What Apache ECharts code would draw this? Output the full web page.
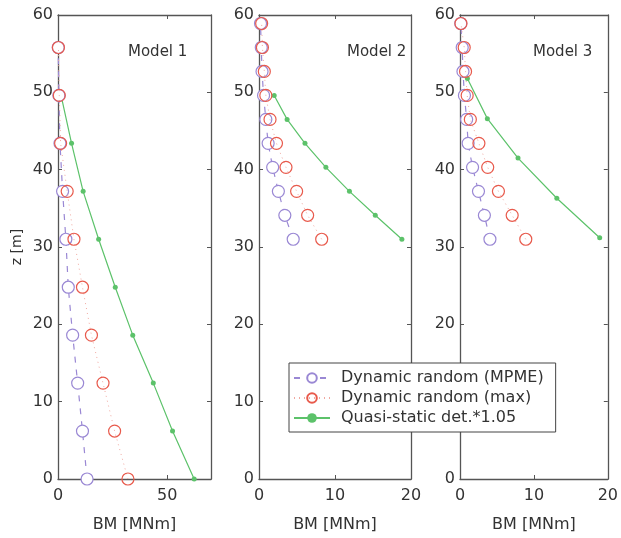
<!DOCTYPE html>
<html><head><meta charset="utf-8">
<script src="https://cdn.jsdelivr.net/npm/echarts/dist/echarts.min.js"></script>
<style>html,body{margin:0;padding:0;background:#fff}#c{width:621px;height:538px}</style>
</head><body><div id="c"></div><script>
// ---- data (BM [MNm] vs z [m]) ----
const seriesNames = ['Dynamic random (MPME)', 'Dynamic random (max)', 'Quasi-static det.*1.05'];
const modelTitles = ['Model 1', 'Model 2', 'Model 3'];
const xMax = [70, 20, 20];
const xInterval = [50, 10, 10];
const yTicks = [0, 10, 20, 30, 40, 50, 60];

// Model 1
const z1 = [0, 6.2, 12.4, 18.6, 24.8, 31, 37.2, 43.4, 49.6, 55.8];
const mpme1 = [13.3, 11.2, 9.0, 6.7, 4.7, 3.6, 2.1, 0.9, 0.4, 0.1];
const max1 = [32.0, 25.9, 20.6, 15.3, 11.2, 7.3, 4.2, 1.2, 0.6, 0.2];
const zQs1 = [0, 6.2, 12.4, 18.6, 24.8, 31, 37.2, 43.4, 49.6];
const qs1 = [62.3, 52.4, 43.6, 34.2, 26.2, 18.6, 11.5, 6.2, 1.4];

// Model 2
const z2 = [31, 34.1, 37.2, 40.3, 43.4, 46.5, 49.6, 52.7, 55.8, 58.9];
const mpme2 = [4.5, 3.4, 2.55, 1.8, 1.2, 0.9, 0.6, 0.4, 0.3, 0.2];
const max2 = [8.25, 6.4, 4.95, 3.55, 2.3, 1.45, 0.9, 0.7, 0.45, 0.35];
const zQs2 = [31, 34.1, 37.2, 40.3, 43.4, 46.5, 49.6];
const qs2 = [18.8, 15.3, 11.9, 8.8, 6.05, 3.7, 2.0];

// Model 3
const z3 = [31, 34.1, 37.2, 40.3, 43.4, 46.5, 49.6, 52.7, 55.8, 58.9];
const mpme3 = [4.05, 3.3, 2.5, 1.7, 1.1, 0.9, 0.6, 0.4, 0.3, 0.1];
const max3 = [8.9, 7.06, 5.2, 3.75, 2.56, 1.4, 0.97, 0.75, 0.57, 0.13];
const zQs3 = [31.2, 36.3, 41.5, 46.6, 51.8];
const qs3 = [18.9, 13.1, 7.85, 3.7, 1.0];

// ---- build ----
const FONT = 'DejaVu Sans';
const TXT = '#333';
const AX = '#555';
const colors = ['#9a88d4', '#e85a4c', '#5cc26a'];
const pair = (xs, zs) => xs.map((v, i) => [v, zs[i]]);
const panels = [
  {mpme: pair(mpme1, z1), max: pair(max1, z1), qs: pair(qs1, zQs1)},
  {mpme: pair(mpme2, z2), max: pair(max2, z2), qs: pair(qs2, zQs2)},
  {mpme: pair(mpme3, z3), max: pair(max3, z3), qs: pair(qs3, zQs3)}
];
const grids = [
  {left: 58, top: 15, width: 153, height: 464},
  {left: 259, top: 15, width: 152, height: 464},
  {left: 460, top: 15, width: 151, height: 464}
];
const titlePos = [[128, 45], [347, 45], [533, 45]];

const xAxis = [], yAxis = [], series = [], title = [];
panels.forEach((p, i) => {
  const base = {type: 'value', gridIndex: i, min: 0, max: xMax[i], interval: xInterval[i],
    splitLine: {show: false}, axisLine: {show: true, onZero: false, lineStyle: {color: AX, width: 1.3}},
    axisTick: {show: true, inside: true, length: 4, lineStyle: {color: AX}}};
  xAxis.push(Object.assign({}, base, {position: 'bottom',
    name: 'BM [MNm]', nameLocation: 'middle', nameGap: 38,
    nameTextStyle: {fontFamily: FONT, fontSize: 16, color: TXT},
    axisLabel: {fontFamily: FONT, fontSize: 16, color: TXT, margin: 9, showMaxLabel: i !== 0}}));
  xAxis.push(Object.assign({}, base, {position: 'top', axisLabel: {show: false}}));
  const ybase = {type: 'value', gridIndex: i, min: 0, max: 60, interval: 10,
    splitLine: {show: false}, axisLine: {show: true, onZero: false, lineStyle: {color: AX, width: 1.3}},
    axisTick: {show: true, inside: true, length: 4, lineStyle: {color: AX}}};
  yAxis.push(Object.assign({}, ybase, {position: 'left',
    name: i === 0 ? 'z [m]' : '', nameLocation: 'middle', nameGap: 34, nameRotate: 90,
    nameTextStyle: {fontFamily: FONT, fontSize: 14, color: TXT},
    axisLabel: {fontFamily: FONT, fontSize: 16, color: TXT, margin: 5}}));
  yAxis.push(Object.assign({}, ybase, {position: 'right', axisLabel: {show: false}}));

  series.push({name: seriesNames[0], type: 'line', xAxisIndex: 2 * i, yAxisIndex: 2 * i,
    data: p.mpme, symbol: 'circle', symbolSize: 12, showAllSymbol: true,
    itemStyle: {color: '#fff', borderColor: colors[0], borderWidth: 1.2},
    lineStyle: {color: colors[0], width: 1.2, type: [6, 7]}, z: 3});
  series.push({name: seriesNames[1], type: 'line', xAxisIndex: 2 * i, yAxisIndex: 2 * i,
    data: p.max, symbol: 'circle', symbolSize: 12, showAllSymbol: true,
    itemStyle: {color: 'rgba(255,255,255,0)', borderColor: colors[1], borderWidth: 1.2},
    lineStyle: {color: '#f0a8a0', width: 1, type: [1, 4]}, z: 4});
  series.push({name: seriesNames[2], type: 'line', xAxisIndex: 2 * i, yAxisIndex: 2 * i,
    data: p.qs, symbol: 'circle', symbolSize: 5, showAllSymbol: true,
    itemStyle: {color: colors[2], borderWidth: 0},
    lineStyle: {color: colors[2], width: 1.2}, z: 2});

  title.push({text: modelTitles[i], left: titlePos[i][0], top: titlePos[i][1], padding: 0,
    textStyle: {fontFamily: FONT, fontSize: 15, fontWeight: 'normal', color: TXT}});
});

const chart = echarts.init(document.getElementById('c'), null, {renderer: 'canvas'});
chart.setOption({
  animation: false,
  backgroundColor: '#fff',
  title: title,
  grid: grids,
  xAxis: xAxis,
  yAxis: yAxis,
  series: series,
  legend: {
    data: seriesNames, orient: 'vertical', left: 289, top: 363,
    padding: [7, 12, 6, 4], itemGap: 4, itemWidth: 36, itemHeight: 12,
    backgroundColor: '#fff', borderColor: '#444', borderWidth: 1,
    textStyle: {fontFamily: FONT, fontSize: 16, color: TXT, padding: [0, 0, 0, 6]},
    z: 10
  }
});
</script></body></html>
